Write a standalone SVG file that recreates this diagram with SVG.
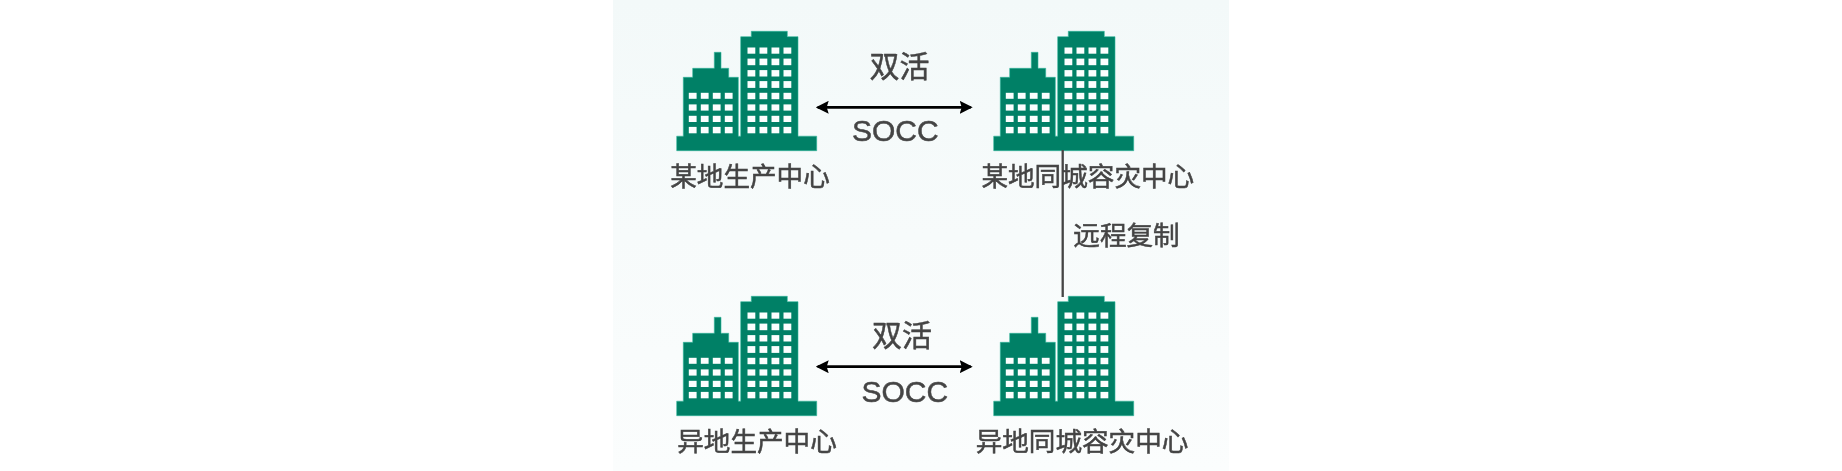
<svg xmlns="http://www.w3.org/2000/svg" width="1842" height="471" viewBox="0 0 1842 471">
<style>
.t{font-family:"Liberation Sans","Noto Sans CJK SC",sans-serif;fill:#444;stroke:#444;stroke-width:.5}
.l{font-size:26.6px}
.a{font-size:30px}
.arrow{stroke:#000;stroke-width:2.7;fill:none;marker-start:url(#head);marker-end:url(#head)}
.rep{stroke:#444;stroke-width:2.3;fill:none}
.b{fill:#008066;stroke:#2fb59b;stroke-width:.6}
.w{fill:#fbfefe}
.soft{filter:url(#soft)}
</style>
<defs>
<linearGradient id="bg" x1="0" y1="0" x2="0" y2="1"><stop offset="0" stop-color="#f3f9f9"/><stop offset="1" stop-color="#fbfdfd"/></linearGradient>
<filter id="soft" x="-5%" y="-5%" width="110%" height="110%"><feGaussianBlur stdDeviation="0.4"/></filter>
<marker id="head" viewBox="0 0 13 13" refX="11" refY="6.5" markerWidth="13" markerHeight="13" markerUnits="userSpaceOnUse" orient="auto-start-reverse"><path d="M0 0L13 6.5L0 13L2 6.5z" fill="#000"/></marker>
<g id="bld">
<path class="b" d="M676.7 136.2H683.3V77.3H692.7V68.3H714.3V52.3H721V68.3H728.7V77.3H738.3V136.2H740.7V36.7H751.3V31.3H787.3V36.7H798V136.2H816.7V150.7H676.7z"/>
<g class="w">
<rect x="747.5" y="47.5" width="7.8" height="6.2"/><rect x="759.5" y="47.5" width="7.8" height="6.2"/><rect x="771.5" y="47.5" width="7.8" height="6.2"/><rect x="783.5" y="47.5" width="7.8" height="6.2"/>
<rect x="747.5" y="58.6" width="7.8" height="6.6"/><rect x="759.5" y="58.6" width="7.8" height="6.6"/><rect x="771.5" y="58.6" width="7.8" height="6.6"/><rect x="783.5" y="58.6" width="7.8" height="6.6"/>
<rect x="747.5" y="70.1" width="7.8" height="6.4"/><rect x="759.5" y="70.1" width="7.8" height="6.4"/><rect x="771.5" y="70.1" width="7.8" height="6.4"/><rect x="783.5" y="70.1" width="7.8" height="6.4"/>
<rect x="747.5" y="81.1" width="7.8" height="6.8"/><rect x="759.5" y="81.1" width="7.8" height="6.8"/><rect x="771.5" y="81.1" width="7.8" height="6.8"/><rect x="783.5" y="81.1" width="7.8" height="6.8"/>
<rect x="747.5" y="92.8" width="7.8" height="6.4"/><rect x="759.5" y="92.8" width="7.8" height="6.4"/><rect x="771.5" y="92.8" width="7.8" height="6.4"/><rect x="783.5" y="92.8" width="7.8" height="6.4"/>
<rect x="747.5" y="104.4" width="7.8" height="6.2"/><rect x="759.5" y="104.4" width="7.8" height="6.2"/><rect x="771.5" y="104.4" width="7.8" height="6.2"/><rect x="783.5" y="104.4" width="7.8" height="6.2"/>
<rect x="747.5" y="115.8" width="7.8" height="6.2"/><rect x="759.5" y="115.8" width="7.8" height="6.2"/><rect x="771.5" y="115.8" width="7.8" height="6.2"/><rect x="783.5" y="115.8" width="7.8" height="6.2"/>
<rect x="747.5" y="126.9" width="7.8" height="6.4"/><rect x="759.5" y="126.9" width="7.8" height="6.4"/><rect x="771.5" y="126.9" width="7.8" height="6.4"/><rect x="783.5" y="126.9" width="7.8" height="6.4"/>
<rect x="688.8" y="92.8" width="7.8" height="6"/><rect x="700.8" y="92.8" width="7.8" height="6"/><rect x="712.8" y="92.8" width="7.8" height="6"/><rect x="724.8" y="92.8" width="7.8" height="6"/>
<rect x="688.8" y="104.4" width="7.8" height="6.2"/><rect x="700.8" y="104.4" width="7.8" height="6.2"/><rect x="712.8" y="104.4" width="7.8" height="6.2"/><rect x="724.8" y="104.4" width="7.8" height="6.2"/>
<rect x="688.8" y="115.8" width="7.8" height="6.2"/><rect x="700.8" y="115.8" width="7.8" height="6.2"/><rect x="712.8" y="115.8" width="7.8" height="6.2"/><rect x="724.8" y="115.8" width="7.8" height="6.2"/>
<rect x="688.8" y="126.9" width="7.8" height="6.4"/><rect x="700.8" y="126.9" width="7.8" height="6.4"/><rect x="712.8" y="126.9" width="7.8" height="6.4"/><rect x="724.8" y="126.9" width="7.8" height="6.4"/>
</g>
</g>
</defs>
<rect width="1842" height="471" fill="#fff"/>
<rect x="613" y="0" width="616" height="471" fill="url(#bg)"/>
<g class="soft">
<g id="node-top-prod"><use href="#bld"/><text class="t l" x="750" y="185.5" text-anchor="middle">某地生产中心</text></g>
<g id="node-top-dr"><use href="#bld" x="317"/><text class="t l" x="1087.8" y="185.5" text-anchor="middle">某地同城容灾中心</text></g>
<g id="node-bottom-prod"><use href="#bld" y="265"/><text class="t l" x="757" y="451" text-anchor="middle">异地生产中心</text></g>
<g id="node-bottom-dr"><use href="#bld" x="317" y="265"/><text class="t l" x="1082" y="451" text-anchor="middle">异地同城容灾中心</text></g>
<g id="connectors">
<line class="arrow" x1="817.7" y1="107.3" x2="970.7" y2="107.3"/>
<line class="arrow" x1="817.7" y1="366.7" x2="970.7" y2="366.7"/>
<line class="rep" x1="1062.7" y1="150" x2="1062.7" y2="297"/>
</g>
<g id="labels">
<text class="t a" x="899.5" y="77" text-anchor="middle">双活</text>
<text class="t a" x="895.3" y="140.5" text-anchor="middle">SOCC</text>
<text class="t a" x="902" y="346" text-anchor="middle">双活</text>
<text class="t a" x="904.8" y="402" text-anchor="middle">SOCC</text>
<text class="t l" x="1126.5" y="245" text-anchor="middle">远程复制</text>
</g>
</g>
</svg>
